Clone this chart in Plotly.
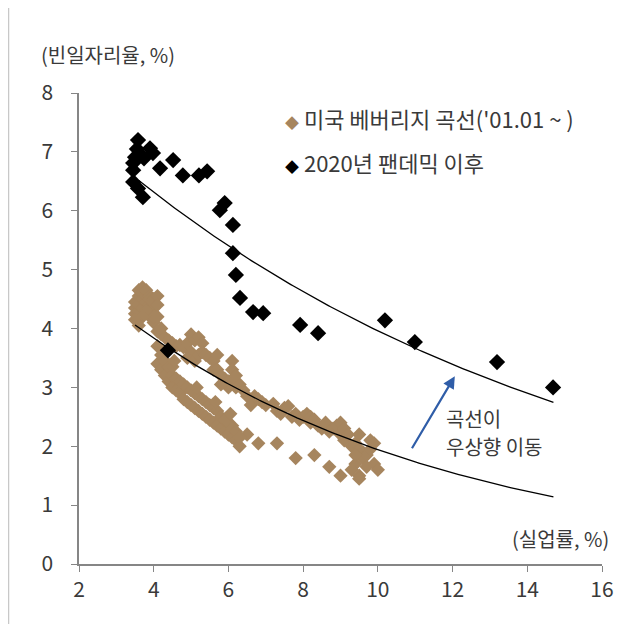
import plotly.graph_objects as go
import numpy as np

# ---- Data ----
# US Beveridge curve ('01.01 ~ ) : unemployment rate (%) vs job-openings rate (%)
us_unemp = [
    # 2017-2019 cluster
    3.5, 3.5, 3.5, 3.6, 3.6, 3.6, 3.6, 3.6, 3.7, 3.7, 3.7, 3.7, 3.8, 3.8, 3.8, 3.9, 3.9, 3.9, 4.0, 4.0,
    4.1, 4.1, 3.8, 3.9, 4.0, 4.0, 4.1, 3.7, 3.5, 3.6,
    # upper band (recovery, low unemployment)
    4.1, 4.2, 4.2, 4.3, 4.4, 4.5, 4.6, 4.7, 4.8, 4.9, 5.0, 5.1, 5.2, 5.3, 5.0, 4.9, 5.1, 5.2, 5.3, 5.4,
    5.5, 5.6, 5.7, 5.6, 5.7, 5.8, 5.9, 6.0, 6.1, 6.1, 6.2, 6.3, 6.0, 5.8, 6.2,
    # upper band (recovery, high unemployment) and 2008-09
    6.4, 6.5, 6.6, 6.7, 6.8, 6.9, 7.0, 7.2, 7.3, 7.4, 7.5, 7.6, 7.7, 7.8, 7.9, 8.0, 8.1, 8.2, 8.2, 8.3,
    8.4, 8.5, 8.6, 8.7, 8.8, 8.9, 9.0, 9.0, 9.1, 9.1, 9.2, 9.3, 9.4, 9.5, 9.5, 9.6, 9.6, 9.7, 9.8, 9.8,
    9.9, 9.9, 10.0, 9.7, 9.4, 9.4, 9.3, 9.5, 9.0, 9.5, 8.7, 8.3, 7.8, 7.3, 6.8, 6.5, 6.1,
    # lower band (2001-2008)
    4.1, 4.1, 4.2, 4.2, 4.3, 4.3, 4.4, 4.4, 4.5, 4.5, 4.5, 4.6, 4.6, 4.7, 4.7, 4.8, 4.8, 4.9, 4.9, 5.0,
    5.0, 5.1, 5.1, 5.2, 5.2, 5.3, 5.3, 5.4, 5.4, 5.5, 5.5, 5.6, 5.6, 5.7, 5.7, 5.8, 5.8, 5.9, 5.9, 6.0,
    6.0, 6.1, 6.1, 6.2, 6.2, 6.3, 6.3, 4.55, 5.15, 5.65, 6.05,
]
us_vacancy = [
    4.25, 4.35, 4.45, 4.2, 4.3, 4.4, 4.55, 4.65, 4.35, 4.5, 4.6, 4.7, 4.45, 4.55, 4.65, 4.4, 4.55, 4.5, 4.5, 4.35,
    4.55, 4.4, 4.3, 4.2, 4.1, 4.2, 4.2, 4.2, 4.15, 4.05,
    3.95, 3.9, 4.0, 3.85, 3.8, 3.75, 3.7, 3.72, 3.68, 3.75, 3.9, 3.8, 3.85, 3.75, 3.6, 3.5, 3.45, 3.55, 3.6, 3.55,
    3.5, 3.45, 3.55, 3.3, 3.3, 3.2, 3.15, 3.1, 3.45, 3.3, 3.0, 3.05, 3.0, 3.05, 3.2,
    2.95, 2.85, 2.7, 2.85, 2.8, 2.75, 2.7, 2.72, 2.6, 2.55, 2.65, 2.68, 2.5, 2.55, 2.45, 2.5, 2.55, 2.5, 2.4, 2.45,
    2.35, 2.3, 2.4, 2.25, 2.3, 2.35, 2.4, 2.2, 2.1, 2.3, 2.2, 2.0, 2.05, 1.95, 2.2, 1.9, 1.8, 1.85, 2.1, 1.95,
    2.05, 1.7, 1.6, 1.65, 1.7, 1.85, 1.6, 1.5, 1.5, 1.45, 1.65, 1.85, 1.8, 2.05, 2.05, 2.2, 2.35,
    3.4, 3.7, 3.3, 3.55, 3.2, 3.45, 3.1, 3.35, 3.0, 3.2, 3.35, 2.95, 3.15, 2.9, 3.1, 2.8, 3.05, 2.75, 3.0, 2.7,
    2.95, 2.65, 2.9, 2.6, 2.85, 2.55, 2.8, 2.5, 2.75, 2.45, 2.7, 2.4, 2.65, 2.35, 2.6, 2.3, 2.5, 2.25, 2.45, 2.2,
    2.4, 2.15, 2.3, 2.1, 2.25, 2.0, 2.15, 3.45, 3.0, 2.75, 2.55,
]

# Since the 2020 pandemic
pandemic_unemp = [3.58, 3.90, 3.98, 3.50, 3.45, 3.74, 4.17, 4.52, 4.78, 5.21, 5.43, 3.45, 3.58, 3.71, 3.45,
                  3.65, 3.55, 5.90, 5.77, 6.12, 6.12, 6.20, 6.31, 6.66, 6.93, 7.92, 8.40, 10.19, 10.99,
                  13.19, 14.69, 4.38]
pandemic_vacancy = [7.20, 7.06, 6.98, 6.91, 6.81, 6.89, 6.72, 6.86, 6.60, 6.60, 6.67, 6.49, 6.38, 6.23, 6.69,
                    6.95, 7.05, 6.13, 6.01, 5.76, 5.28, 4.91, 4.52, 4.28, 4.26, 4.06, 3.92, 4.14, 3.77,
                    3.43, 3.00, 3.63]

# Exponential trend lines y = a * exp(b * x)
us_trend = (6.04, -0.1135)
pandemic_trend = (8.62, -0.0778)
us_trend_range = (3.5, 14.7)
pandemic_trend_range = (3.6, 14.7)

x_ticks = [2, 4, 6, 8, 10, 12, 14, 16]
y_ticks = [0, 1, 2, 3, 4, 5, 6, 7, 8]

BROWN = "#A6855E"
FONT = "Noto Sans CJK KR"
TXT = "#3a3a3a"
AXIS = "#868686"

tx_us = np.linspace(us_trend_range[0], us_trend_range[1], 200)
tx_pd = np.linspace(pandemic_trend_range[0], pandemic_trend_range[1], 200)

fig = go.Figure()
fig.add_trace(go.Scatter(x=us_unemp, y=us_vacancy, mode="markers",
                         marker=dict(symbol="diamond", size=11, color=BROWN, line=dict(width=0)),
                         name="미국 베버리지 곡선('01.01 ~ )", showlegend=False))
fig.add_trace(go.Scatter(x=pandemic_unemp, y=pandemic_vacancy, mode="markers",
                         marker=dict(symbol="diamond", size=12.5, color="#000000", line=dict(width=0)),
                         name="2020년 팬데믹 이후", showlegend=False))
fig.add_trace(go.Scatter(x=tx_us, y=us_trend[0] * np.exp(us_trend[1] * tx_us), mode="lines",
                         line=dict(color="#000000", width=1.3), showlegend=False, hoverinfo="skip"))
fig.add_trace(go.Scatter(x=tx_pd, y=pandemic_trend[0] * np.exp(pandemic_trend[1] * tx_pd), mode="lines",
                         line=dict(color="#000000", width=1.3), showlegend=False, hoverinfo="skip"))

# page has an 8px body margin: figure is drawn 8px right/down of the window corner
OFF = 8
W, H = 637 - OFF, 624 - OFF
ML, MR, MT, MB = 79 - OFF, 35, 93 - OFF, 60
PW, PH = W - ML - MR, H - MT - MB


def px(xp):  # window pixel -> paper x
    return (xp - OFF - ML) / PW


def py(yp):  # window pixel -> paper y
    return (H - MB - (yp - OFF)) / PH


annotations = [
    dict(text="(빈일자리율, %)", x=px(39), y=py(54), xref="paper", yref="paper",
         xanchor="left", yanchor="middle", showarrow=False, font=dict(size=20, color=TXT, family=FONT)),
    dict(text="(실업률, %)", x=px(611), y=py(538), xref="paper", yref="paper",
         xanchor="right", yanchor="middle", showarrow=False, font=dict(size=20, color=TXT, family=FONT)),
    dict(text=f"<span style='color:{BROWN};font-size:14px'>◆</span> 미국 베버리지 곡선('01.01 ~ )",
         x=px(283), y=py(118), xref="paper", yref="paper",
         xanchor="left", yanchor="middle", showarrow=False, font=dict(size=22, color=TXT, family=FONT)),
    dict(text="<span style='color:#000000;font-size:14px'>◆</span> 2020년 팬데믹 이후",
         x=px(283), y=py(162), xref="paper", yref="paper",
         xanchor="left", yanchor="middle", showarrow=False, font=dict(size=22, color=TXT, family=FONT)),
    dict(text="곡선이", x=px(444), y=py(418), xref="paper", yref="paper",
         xanchor="left", yanchor="middle", align="left", showarrow=False,
         font=dict(size=20, color=TXT, family=FONT)),
    dict(text="우상향 이동", x=px(444), y=py(446), xref="paper", yref="paper",
         xanchor="left", yanchor="middle", align="left", showarrow=False,
         font=dict(size=20, color=TXT, family=FONT)),
    dict(x=12.06, y=3.19, ax=10.89, ay=1.94, xref="x", yref="y", axref="x", ayref="y", text="",
         showarrow=True, arrowhead=2, arrowsize=1.1, arrowwidth=2.2, arrowcolor="#2F5DA8"),
]

fig.update_layout(
    width=W, height=H,
    margin=dict(l=ML, r=MR, t=MT, b=MB),
    plot_bgcolor="white", paper_bgcolor="white",
    font=dict(family=FONT, size=20, color=TXT),
    annotations=annotations,
    shapes=[dict(type="line", xref="paper", yref="paper", x0=px(8.5), x1=px(8.5), y0=py(624), y1=py(8),
                 line=dict(color="#c8c8c8", width=1.5))],
    xaxis=dict(range=[2, 16], tickvals=x_ticks, ticks="outside", ticklen=6, tickcolor=AXIS,
               showline=True, linecolor=AXIS, linewidth=1.5, showgrid=False, zeroline=False,
               tickfont=dict(size=21, color=TXT), ticklabelstandoff=0, automargin=False),
    yaxis=dict(range=[0, 8], tickvals=y_ticks, ticks="outside", ticklen=6, tickcolor=AXIS,
               showline=True, linecolor=AXIS, linewidth=1.5, showgrid=False, zeroline=False,
               tickfont=dict(size=21, color=TXT), ticklabelstandoff=14, automargin=False),
)

fig.write_html("out.html")
